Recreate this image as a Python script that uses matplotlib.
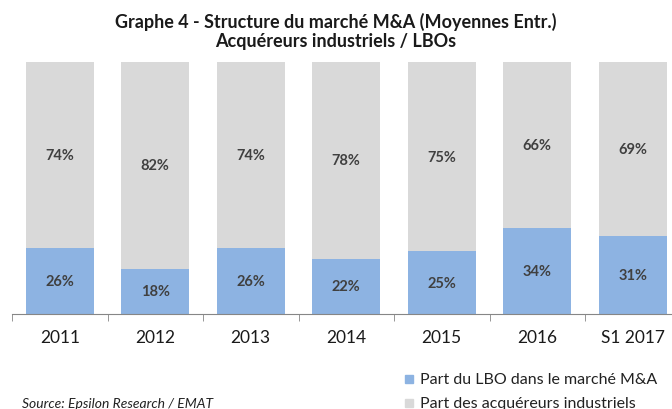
import matplotlib.pyplot as plt
from matplotlib.patches import Rectangle

plt.rcParams["font.family"] = ["Lato", "DejaVu Sans"]

CATEGORIES = ["2011", "2012", "2013", "2014", "2015", "2016", "S1 2017"]
LBO_SHARE = [26, 18, 26, 22, 25, 34, 31]
INDUSTRIAL_SHARE = [74, 82, 74, 78, 75, 66, 69]

LBO_LABEL = "Part du LBO dans le marché M&A"
INDUSTRIAL_LABEL = "Part des acquéreurs industriels"
TITLE = "Graphe 4 - Structure du marché M&A (Moyennes Entr.)\nAcquéreurs industriels / LBOs"
SOURCE = "Source: Epsilon Research / EMAT"

BLUE = "#8db3e2"
GRAY = "#d9d9d9"
TEXT = "#404040"


def main() -> None:
    fig = plt.figure(figsize=(6.72, 4.10), dpi=100)
    ax = fig.add_axes([12 / 672, 95 / 410, 573 * 7 / 6 / 672, 252 / 410])

    x = range(len(CATEGORIES))
    ax.bar(x, LBO_SHARE, width=0.71, color=BLUE, label=LBO_LABEL)
    ax.bar(x, INDUSTRIAL_SHARE, width=0.71, bottom=LBO_SHARE, color=GRAY, label=INDUSTRIAL_LABEL)

    for i, (lbo, ind) in enumerate(zip(LBO_SHARE, INDUSTRIAL_SHARE)):
        ax.text(i, lbo / 2, f"{lbo}%", ha="center", va="center", fontsize=10.5,
                fontweight="bold", color=TEXT)
        ax.text(i, lbo + ind / 2, f"{ind}%", ha="center", va="center", fontsize=10.5,
                fontweight="bold", color=TEXT)

    ax.set_xlim(-0.5, len(CATEGORIES) - 0.5)
    ax.set_ylim(0, 100)
    ax.set_yticks([])
    for side in ["top", "right", "left"]:
        ax.spines[side].set_visible(False)
    ax.spines["bottom"].set_color("#868686")

    ax.set_xticks(range(len(CATEGORIES)))
    ax.set_xticklabels(CATEGORIES, fontsize=12.5, color="#1a1a1a")
    ax.tick_params(axis="x", length=0, pad=11)
    ax.set_xticks([i - 0.5 for i in range(len(CATEGORIES) + 1)], minor=True)
    ax.tick_params(axis="x", which="minor", length=5, color="#868686")

    fig.text(0.5, 1 - 13 / 410, TITLE, ha="center", va="top", fontsize=13, fontweight="bold",
             color="#1a1a1a", linespacing=1.15)

    fig.text(22 / 672, 1 - 404 / 410, SOURCE, ha="left", va="center", fontsize=10,
             style="italic", color="#222222")

    for row, (label, color) in enumerate([(LBO_LABEL, BLUE), (INDUSTRIAL_LABEL, GRAY)]):
        y = 380 + row * 24
        fig.patches.append(Rectangle((405 / 672, 1 - (y + 4) / 410), 8 / 672, 8 / 410,
                                     transform=fig.transFigure, color=color))
        fig.text(420 / 672, 1 - y / 410, label, ha="left", va="center", fontsize=11.5,
                 color="#222222")

    fig.savefig("out.png", dpi=100)
    plt.close(fig)


if __name__ == "__main__":
    main()
